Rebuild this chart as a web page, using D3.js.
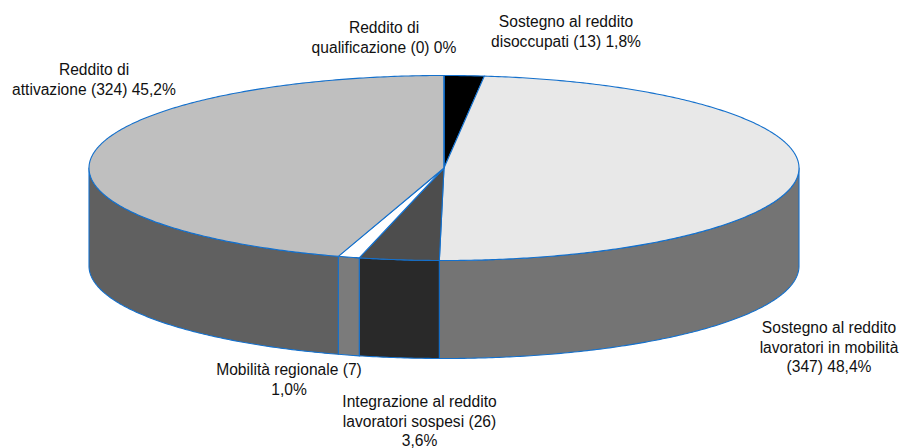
<!DOCTYPE html>
<html><head><meta charset="utf-8">
<script src="https://cdnjs.cloudflare.com/ajax/libs/d3/7.8.5/d3.min.js"></script>
<style>html,body{margin:0;background:#fff}svg{display:block}text{font-family:"Liberation Sans",Arial,sans-serif;font-size:15.6px;fill:#111;text-anchor:middle}</style>
</head><body><svg id="c" width="902" height="448"></svg>
<script>
const categories=["Reddito di qualificazione","Sostegno al reddito disoccupati","Sostegno al reddito lavoratori in mobilità","Integrazione al reddito lavoratori sospesi","Mobilità regionale","Reddito di attivazione"];
const values=[0,13,347,26,7,324];
const topColors=["#a0a0a0","#000000","#e8e8e8","#4d4d4d","#ffffff","#bfbfbf"];
const sideColors=["#606060","#000000","#747474","#292929","#7b7b7b","#606060"];
const labelLines=[["Reddito di","qualificazione (0) 0%"],["Sostegno al reddito","disoccupati (13) 1,8%"],["Sostegno al reddito","lavoratori in mobilità","(347) 48,4%"],["Integrazione al reddito","lavoratori sospesi (26)","3,6%"],["Mobilità regionale (7)","1,0%"],["Reddito di","attivazione (324) 45,2%"]];
const labelX=[384,566,829,419.5,289,94];
const labelY=[33,27,333,407,375,75];
const LH=19.6;
const svg=d3.select("#c");
const W=d3.scaleLinear().domain([-1,1]).range([89,799]);
const H=d3.scaleLinear().domain([-1,1]).range([75.5,260.5]);
const depth=98, stroke="#1470cc";
const arcs=d3.pie().sort(null).value(d=>d)(values);
const px=a=>W(Math.sin(a)), py=a=>H(-Math.cos(a));
const arcPts=(a0,a1,dy=0)=>{
  const n=Math.max(2,Math.ceil(Math.abs(a1-a0)/0.01));
  return d3.range(n+1).map(i=>{const a=a0+(a1-a0)*i/n;return [px(a),py(a)+dy];});
};
const line=d3.line().curve(d3.curveLinear);
const gSide=svg.append("g"), gTop=svg.append("g"), gText=svg.append("g");
// side walls: only the front half of the cylinder (pi/2 .. 3pi/2)
arcs.forEach((d,i)=>{
  const a0=Math.max(d.startAngle,Math.PI/2), a1=Math.min(d.endAngle,Math.PI*1.5);
  if(a1<=a0) return;
  const pts=arcPts(a0,a1).concat(arcPts(a1,a0,depth));
  gSide.append("path").attr("d",line(pts)+"Z").attr("fill",sideColors[i]).attr("stroke",stroke).attr("stroke-width",1.1).attr("stroke-linejoin","round");
});
arcs.forEach((d,i)=>{
  if(d.value===0) return;
  const pts=[[W(0),H(0)]].concat(arcPts(d.startAngle,d.endAngle));
  gTop.append("path").attr("d",line(pts)+"Z").attr("fill",topColors[i]).attr("stroke",stroke).attr("stroke-width",1.1).attr("stroke-linejoin","round");
});
gTop.append("path").attr("d",line([[W(0),H(0)],[px(0),py(0)]])).attr("stroke",stroke).attr("stroke-width",1.1).attr("fill","none");
labelLines.forEach((ls,i)=>{
  const t=gText.append("text").attr("x",labelX[i]).attr("y",labelY[i]);
  ls.forEach((s,j)=>t.append("tspan").attr("x",labelX[i]).attr("y",labelY[i]+j*LH).text(s));
});
</script></body></html>
